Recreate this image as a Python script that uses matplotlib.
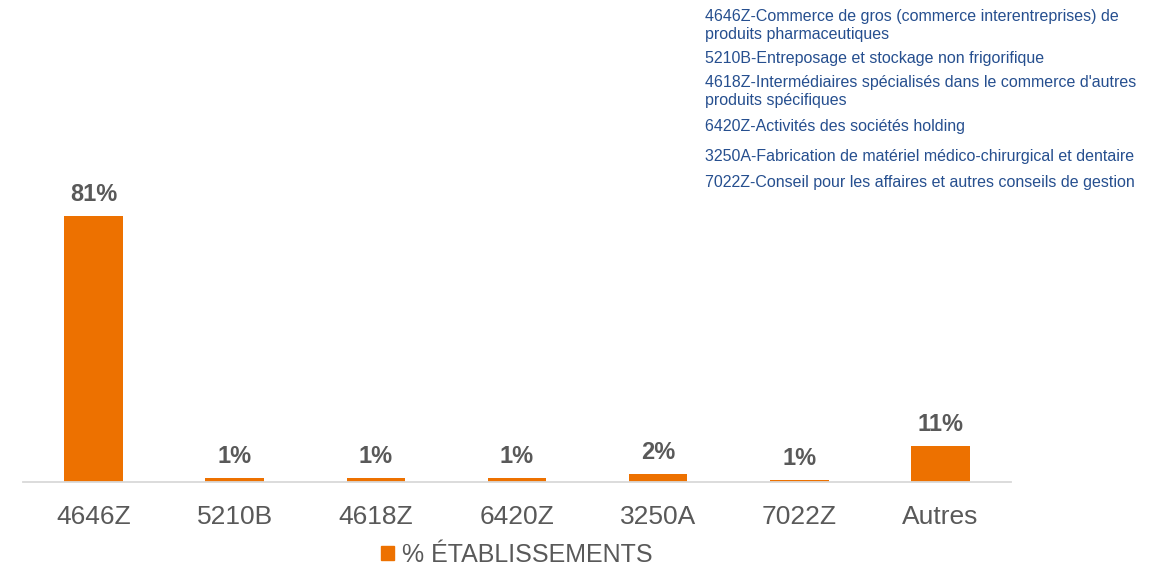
import matplotlib
matplotlib.use("Agg")
import matplotlib.pyplot as plt
from matplotlib.patches import Patch

plt.rcParams['font.family'] = ['Liberation Sans', 'DejaVu Sans']

categories = ["4646Z", "5210B", "4618Z", "6420Z", "3250A", "7022Z", "Autres"]
values = [81.0, 1.2, 1.2, 1.2, 2.4, 0.6, 11.0]
value_labels = ["81%", "1%", "1%", "1%", "2%", "1%", "11%"]
series_name = "% ÉTABLISSEMENTS"
descriptions = [
    (16, "4646Z-Commerce de gros (commerce interentreprises) de"),
    (34, "produits pharmaceutiques"),
    (58, "5210B-Entreposage et stockage non frigorifique"),
    (82, "4618Z-Intermédiaires spécialisés dans le commerce d'autres"),
    (100, "produits spécifiques"),
    (127, "6420Z-Activités des sociétés holding"),
    (157, "3250A-Fabrication de matériel médico-chirurgical et dentaire"),
    (182, "7022Z-Conseil pour les affaires et autres conseils de gestion"),
]

W, H = 1166, 566
fig = plt.figure(figsize=(W / 100, H / 100), dpi=100)
ax = fig.add_axes([23 / W, (H - 482) / H, (1011 - 23) / W, 482 / H])

orange = "#ED7100"
gray = "#595959"
x = range(len(categories))
bars = ax.bar(x, values, width=0.415, color=orange, zorder=2)
ax.set_xlim(-0.5, len(categories) - 0.5)
ax.set_ylim(0, 146.5)

for xi, v, lab in zip(x, values, value_labels):
    ax.annotate(lab, (xi, v), xytext=(0, 10.8), textcoords="offset points",
                ha="center", va="baseline", fontsize=17, fontweight="bold", color=gray)

ax.set_xticks(list(x))
ax.set_xticklabels(categories, fontsize=19, color=gray)
ax.tick_params(axis="x", length=0, pad=16.5)
ax.set_yticks([])
for s in ["top", "left", "right"]:
    ax.spines[s].set_visible(False)
ax.spines["bottom"].set_color("#D9D9D9")
ax.spines["bottom"].set_linewidth(1.3)
ax.spines["bottom"].set_zorder(3)

blue = "#264F8F"
for ypix, t in descriptions:
    fig.text(705 / W, 1 - ypix / H, t, fontsize=11.5, color=blue, ha="left", va="center")

fig.legend(handles=[Patch(color=orange, label=series_name)], loc="center",
           bbox_to_anchor=(517 / W, 1 - 555 / H), frameon=False, fontsize=18,
           handlelength=0.52, handleheight=0.52, handletextpad=0.3,
           labelcolor=gray, borderpad=0, borderaxespad=0)

fig.savefig("out.png", dpi=100)
